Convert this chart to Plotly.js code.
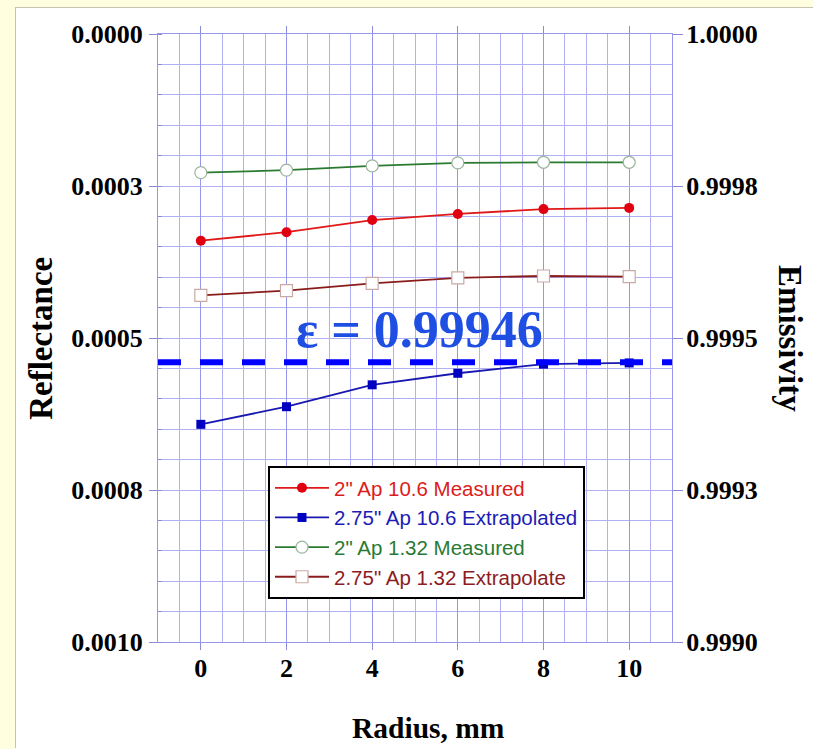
<!DOCTYPE html>
<html>
<head>
<meta charset="utf-8">
<script src="https://cdn.plot.ly/plotly-3.0.1.min.js"></script>
<style>
  html, body { margin: 0; padding: 0; background: #FFFFE0; width: 814px; height: 749px; overflow: hidden; }
  #chart { position: absolute; left: 16px; top: 8px; width: 798px; height: 741px; background: #fff; box-shadow: -1px -1px 0 #c4c4b0; }
</style>
</head>
<body>
<div id="chart"></div>
<script>
// ---- data ----
var radius = [0, 2, 4, 6, 8, 10];
var refl2in_10_6   = [0.000340, 0.000326, 0.000306, 0.000296, 0.000288, 0.000286];
var refl275_10_6   = [0.000642, 0.000613, 0.000577, 0.000558, 0.000543, 0.000541];
var refl2in_1_32   = [0.000228, 0.000224, 0.000217, 0.000212, 0.000211, 0.000211];
var refl275_1_32   = [0.000430, 0.000422, 0.000410, 0.000401, 0.000398, 0.000399];
var seriesNames = ['2" Ap 10.6 Measured', '2.75" Ap 10.6 Extrapolated', '2" Ap 1.32 Measured', '2.75" Ap 1.32 Extrapolate'];
var epsX = [-1, 11];
var epsValue = 0.99946;
var xTicks = [0, 2, 4, 6, 8, 10];
var reflTickVals = [0, 0.00025, 0.0005, 0.00075, 0.001];
var reflTickText = ['0.0000', '0.0003', '0.0005', '0.0008', '0.0010'];
var emisTickVals = [1.0, 0.99975, 0.9995, 0.99925, 0.999];
var emisTickText = ['1.0000', '0.9998', '0.9995', '0.9993', '0.9990'];

var serif = 'Liberation Serif, Times New Roman, serif';
var gridMajor = '#9696ec';
var gridMinor = '#b0b0f2';

function nm(text, color) { return '<span style="color:' + color + '">' + text + '</span>'; }

var traces = [
  { x: radius, y: refl2in_10_6, name: nm(seriesNames[0], '#dc1c1c'), mode: 'lines+markers',
    line: { color: '#e01818', width: 1.8 }, marker: { symbol: 'circle', size: 10, color: '#e00010', line: { width: 0 } } },
  { x: radius, y: refl275_10_6, name: nm(seriesNames[1], '#1c1cb4'), mode: 'lines+markers',
    line: { color: '#1818b0', width: 1.8 }, marker: { symbol: 'square', size: 9, color: '#0000c0', line: { width: 0 } } },
  { x: radius, y: refl2in_1_32, name: nm(seriesNames[2], '#2a7a34'), mode: 'lines+markers',
    line: { color: '#2a7a30', width: 1.8 }, marker: { symbol: 'circle', size: 12, color: '#ffffff', line: { color: '#9cb49c', width: 1.2 } } },
  { x: radius, y: refl275_1_32, name: nm(seriesNames[3], '#8c1c22'), mode: 'lines+markers',
    line: { color: '#8a1c1c', width: 1.8 }, marker: { symbol: 'square', size: 12, color: '#ffffff', line: { color: '#c8aaa4', width: 1.2 } } },
  { x: epsX, y: [epsValue, epsValue], yaxis: 'y2', mode: 'lines', showlegend: false, hoverinfo: 'skip',
    line: { color: '#0000ff', width: 6, dash: '23px,19px' } }
];

var tickFont = { family: serif, size: 26, color: '#000', weight: 'bold' };

var layout = {
  width: 798, height: 741,
  margin: { l: 142, r: 142, t: 26, b: 107 },
  paper_bgcolor: '#ffffff',
  plot_bgcolor: '#ffffff',
  showlegend: true,
  legend: {
    x: 0.214, y: 0.2895, xanchor: 'left', yanchor: 'top',
    bgcolor: '#ffffff', bordercolor: '#000000', borderwidth: 2,
    font: { family: 'Liberation Sans, Arial, sans-serif', size: 20.5, color: '#000' },
    itemwidth: 54, tracegroupgap: 0
  },
  xaxis: {
    range: [-1, 11], tickvals: xTicks, ticktext: xTicks.map(String),
    showgrid: true, gridcolor: gridMajor, gridwidth: 1,
    minor: { dtick: 0.5, tick0: 0, showgrid: true, gridcolor: gridMinor, gridwidth: 1, ticks: '' },
    ticks: 'outside', ticklen: 7, tickcolor: '#8a8ad8', tickwidth: 1,
    showline: true, linecolor: '#9696ec', linewidth: 1, mirror: 'allticks',
    zeroline: false, tickfont: tickFont, ticklabelstandoff: -4
  },
  yaxis: {
    range: [0.001, 0], tickvals: reflTickVals, ticktext: reflTickText,
    showgrid: true, gridcolor: gridMinor, gridwidth: 1,
    minor: { dtick: 0.00005, tick0: 0, showgrid: true, gridcolor: gridMinor, gridwidth: 1, ticks: 'inside', ticklen: 4, tickcolor: '#8a8ad8' },
    ticks: 'outside', ticklen: 8, tickcolor: '#8a8ad8', tickwidth: 1,
    showline: true, linecolor: '#9696ec', linewidth: 1,
    zeroline: false, tickfont: tickFont, ticklabelstandoff: 1
  },
  yaxis2: {
    overlaying: 'y', side: 'right', range: [0.999, 1.0],
    tickvals: emisTickVals, ticktext: emisTickText,
    showgrid: false, zeroline: false,
    ticks: 'outside', ticklen: 10, tickcolor: '#8a8ad8', tickwidth: 1,
    showline: true, linecolor: '#9696ec', linewidth: 1,
    tickfont: tickFont, ticklabelstandoff: -2
  },
  shapes: [
    { type: 'rect', xref: 'paper', yref: 'paper', layer: 'between',
      x0: 0.2665, x1: 0.753, y0: 0.4705, y1: 0.546,
      fillcolor: '#ffffff', line: { width: 0 } }
  ],
  annotations: [
    { text: 'ε = 0.99946', xref: 'paper', yref: 'paper', x: 0.5097, y: 0.5132,
      xanchor: 'center', yanchor: 'middle', showarrow: false, borderpad: 0,
      font: { family: serif, size: 52, color: '#1f4fe2', weight: 'bold' } },
    { text: 'Reflectance', xref: 'paper', yref: 'paper', x: -0.228, y: 0.5,
      xanchor: 'center', yanchor: 'middle', showarrow: false, textangle: -90,
      font: { family: serif, size: 33, color: '#000', weight: 'bold' } },
    { text: 'Emissivity', xref: 'paper', yref: 'paper', x: 1.2296, y: 0.5,
      xanchor: 'center', yanchor: 'middle', showarrow: false, textangle: 90,
      font: { family: serif, size: 33, color: '#000', weight: 'bold' } },
    { text: 'Radius, mm', xref: 'paper', yref: 'paper', x: 0.527, y: -0.142,
      xanchor: 'center', yanchor: 'middle', showarrow: false,
      font: { family: serif, size: 29.5, color: '#000', weight: 'bold' } }
  ]
};

Plotly.newPlot('chart', traces, layout, { displayModeBar: false, staticPlot: true });
</script>
</body>
</html>
